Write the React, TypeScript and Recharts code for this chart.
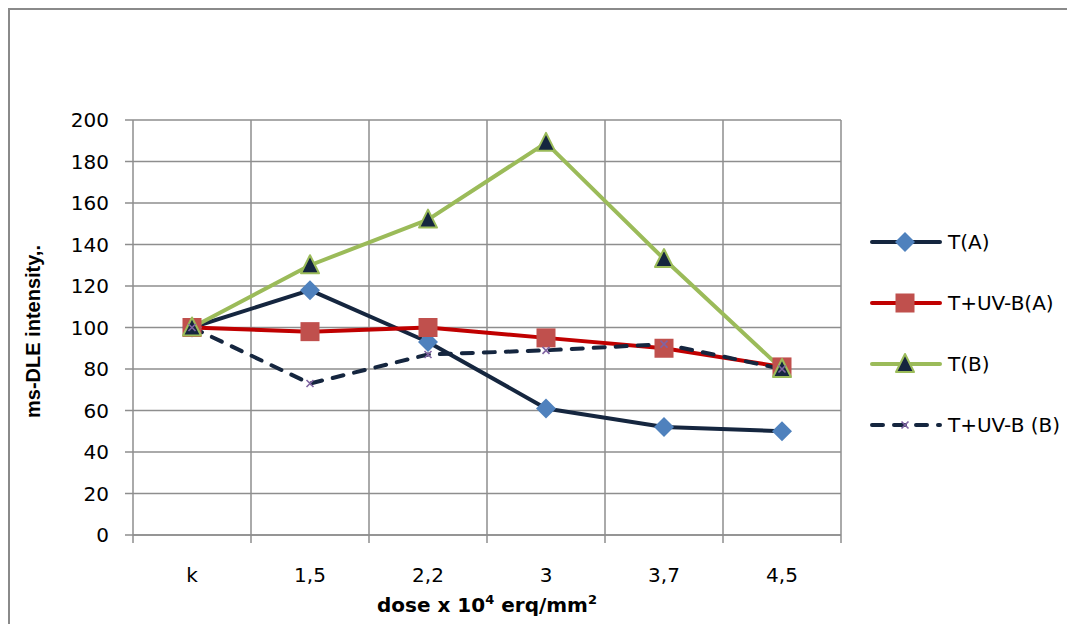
import React from 'react'
import { LineChart, Line, XAxis, YAxis, CartesianGrid, Legend } from 'recharts'

const doses = ['k', '1,5', '2,2', '3', '3,7', '4,5']
const tA = [100, 118, 93, 61, 52, 50]
const tUvbA = [100, 98, 100, 95, 90, 81]
const tB = [100, 130, 152, 189, 133, 80]
const tUvbB = [100, 73, 87, 89, 92, 80]
const yTicks = [0, 20, 40, 60, 80, 100, 120, 140, 160, 180, 200]

const data = doses.map((dose, i) => ({
  dose,
  tA: tA[i],
  tUvbA: tUvbA[i],
  tB: tB[i],
  tUvbB: tUvbB[i],
}))

const NAVY = '#15263f'
const GRID = '#8e8e8e'
const TICK_FONT = 'DejaVu Sans, sans-serif'

type Marker = 'diamond' | 'square' | 'triangle' | 'cross'

const drawMarker = (kind: Marker, cx: number, cy: number, key?: string) => {
  switch (kind) {
    case 'diamond':
      return (
        <path key={key} d={`M${cx},${cy - 10}L${cx + 10},${cy}L${cx},${cy + 10}L${cx - 10},${cy}Z`} fill="#4f81bd" />
      )
    case 'square':
      return <rect key={key} x={cx - 9.5} y={cy - 9.5} width={19} height={19} fill="#c0504d" />
    case 'triangle':
      return (
        <path
          key={key}
          d={`M${cx},${cy - 10}L${cx + 9},${cy + 8}L${cx - 9},${cy + 8}Z`}
          fill={NAVY}
          stroke="#9bbb59"
          strokeWidth={2}
          strokeLinejoin="round"
        />
      )
    default:
      return (
        <path
          key={key}
          d={`M${cx - 3.5},${cy - 3.5}L${cx + 3.5},${cy + 3.5}M${cx + 3.5},${cy - 3.5}L${cx - 3.5},${cy + 3.5}`}
          stroke="#8064a2"
          strokeWidth={1.6}
        />
      )
  }
}

const series = [
  { key: 'tA', name: 'T(A)', color: NAVY, marker: 'diamond' as Marker, dash: undefined },
  { key: 'tUvbA', name: 'T+UV-B(A)', color: '#c00000', marker: 'square' as Marker, dash: undefined },
  { key: 'tB', name: 'T(B)', color: '#9bbb59', marker: 'triangle' as Marker, dash: undefined },
  { key: 'tUvbB', name: 'T+UV-B (B)', color: NAVY, marker: 'cross' as Marker, dash: '11 11' },
]

// category labels sit in the middle of each band, tick marks on the band edges
const DoseTick = (props: any) => {
  const { x, y, payload, index, width, visibleTicksCount } = props
  const count = visibleTicksCount || doses.length
  const band = width / count
  const left = x - band / 2
  return (
    <g>
      <line x1={left} x2={left} y1={y - 8} y2={y} stroke={GRID} strokeWidth={1.5} />
      {index === count - 1 && (
        <line x1={x + band / 2} x2={x + band / 2} y1={y - 8} y2={y} stroke={GRID} strokeWidth={1.5} />
      )}
      <text x={x} y={y + 32} dy="0.355em" textAnchor="middle" fontFamily={TICK_FONT} fontSize={20} fill="#000">
        {payload.value}
      </text>
    </g>
  )
}

const LegendBox = () => (
  <div style={{ fontFamily: TICK_FONT, fontSize: 20, color: '#000' }}>
    {series.map((s) => (
      <div key={s.key} style={{ display: 'flex', alignItems: 'center', height: 61 }}>
        <svg width={78} height={30} style={{ display: 'block' }}>
          <line
            x1={2}
            x2={70}
            y1={15}
            y2={15}
            stroke={s.color}
            strokeWidth={4}
            strokeLinecap="round"
            strokeDasharray={s.dash}
          />
          {drawMarker(s.marker, 35, 15)}
        </svg>
        <span>{s.name}</span>
      </div>
    ))}
  </div>
)

const App: React.FC = () => {
  return (
    <div style={{ position: 'relative', width: 1067, height: 616 }}>
      <div
        style={{
          position: 'absolute',
          left: 0,
          top: 0,
          width: 1100,
          height: 700,
          borderLeft: '2px solid #8a8a8a',
          borderTop: '2px solid #8a8a8a',
          boxSizing: 'border-box',
        }}
      />
      <div style={{ position: 'absolute', left: 0, top: 0 }}>
        <LineChart width={1067} height={616} data={data} margin={{ top: 112, right: 234, bottom: 29, left: 0 }}>
          <CartesianGrid
            stroke={GRID}
            strokeWidth={1.5}
            verticalCoordinatesGenerator={({ offset }: any) =>
              doses.map((_, i) => offset.left + ((i + 1) * offset.width) / doses.length)
            }
          />
          <XAxis
            dataKey="dose"
            scale="band"
            height={60}
            tickSize={8}
            tickMargin={0}
            tickLine={false}
            axisLine={{ stroke: GRID, strokeWidth: 1.5 }}
            tick={<DoseTick />}
            interval={0}
            label={({ viewBox }: any) => (
              <text
                x={viewBox.x + viewBox.width / 2}
                y={viewBox.y + 77}
                textAnchor="middle"
                fontFamily={TICK_FONT}
                fontWeight="bold"
                fontSize={20}
                fill="#000"
              >
                dose x 10
                <tspan fontSize={13} dy={-8}>4</tspan>
                <tspan dy={8}> erq/mm</tspan>
                <tspan fontSize={13} dy={-8}>2</tspan>
              </text>
            )}
          />
          <YAxis
            width={125}
            domain={[0, 200]}
            ticks={yTicks}
            interval={0}
            tickSize={8}
            tickMargin={16}
            axisLine={{ stroke: GRID, strokeWidth: 1.5 }}
            tickLine={{ stroke: GRID, strokeWidth: 1.5 }}
            tick={{ fontFamily: TICK_FONT, fontSize: 20, fill: '#000' }}
            label={({ viewBox }: any) => (
              <text
                x={25}
                y={viewBox.y + viewBox.height / 2 + 4}
                transform={`rotate(-90, 25, ${viewBox.y + viewBox.height / 2 + 4})`}
                textAnchor="middle"
                dominantBaseline="central"
                fontFamily="Liberation Sans, sans-serif"
                fontWeight="bold"
                fontSize={20}
                fill="#000"
              >
                ms-DLE intensity,.
              </text>
            )}
          />
          <Legend
            layout="vertical"
            align="center"
            verticalAlign="middle"
            wrapperStyle={{ left: 862, top: 203, width: 205 }}
            content={() => <LegendBox />}
          />
          {series.map((s) => (
            <Line
              key={s.key}
              type="linear"
              dataKey={s.key}
              name={s.name}
              stroke={s.color}
              strokeWidth={4}
              strokeDasharray={s.dash}
              strokeLinecap="round"
              strokeLinejoin="round"
              isAnimationActive={false}
              dot={(p: any) => drawMarker(s.marker, p.cx, p.cy, `${s.key}-${p.index}`)}
              activeDot={false}
            />
          ))}
        </LineChart>
      </div>
    </div>
  )
}

export default App
